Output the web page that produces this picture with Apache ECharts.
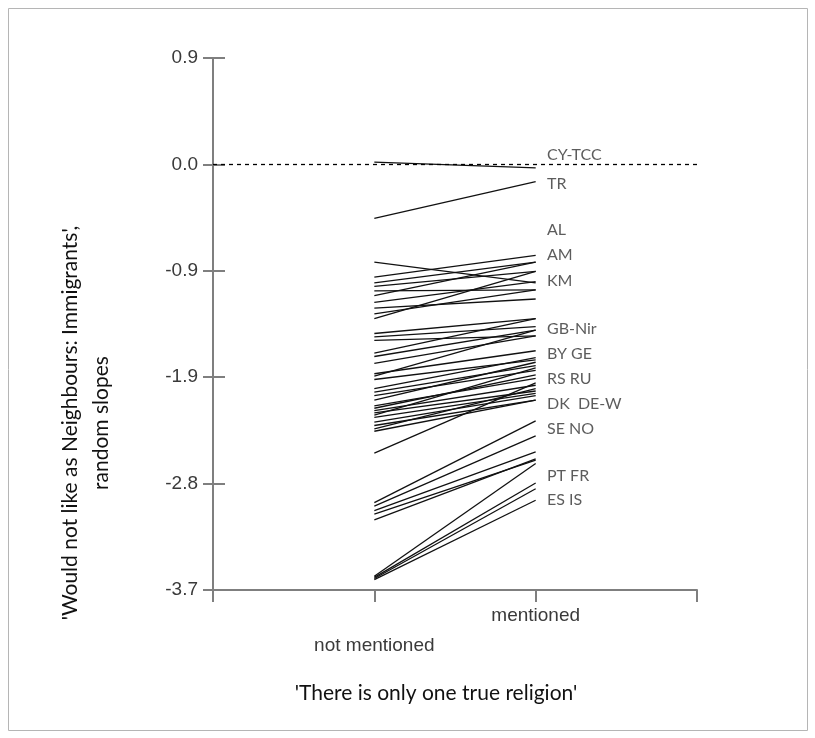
<!DOCTYPE html>
<html>
<head>
<meta charset="utf-8">
<script src="https://cdn.jsdelivr.net/npm/echarts@6/dist/echarts.min.js"></script>
<style>html,body{margin:0;padding:0;background:#fff;}#c{width:815px;height:738px;}</style>
</head>
<body>
<div id="c"></div>
<script>
// x categories
const categories = ['not mentioned', 'mentioned'];
// random slopes per country: value at "not mentioned" and at "mentioned"
const notMentioned = [0.02, -0.47, -0.85, -0.98, -1.03, -1.06, -1.10, -1.14, -1.20, -1.25, -1.30, -1.34,
  -1.47, -1.50, -1.53, -1.64, -1.67, -1.73, -1.82, -1.84, -1.87, -1.95, -1.98, -2.01, -2.05, -2.10,
  -2.12, -2.14, -2.16, -2.18, -2.20, -2.24, -2.27, -2.30, -2.32, -2.51, -2.94, -2.97, -3.01, -3.04,
  -3.09, -3.58, -3.59, -3.60, -3.61];
const mentioned = [-0.03, -0.15, -1.03, -0.79, -0.85, -0.93, -1.09, -0.85, -1.02, -1.17, -1.09, -0.93,
  -1.34, -1.41, -1.49, -1.34, -1.44, -1.49, -1.62, -1.44, -1.70, -1.68, -1.75, -1.79, -1.72, -1.86,
  -1.83, -1.92, -1.97, -1.77, -1.99, -2.01, -2.05, -1.95, -2.05, -1.90, -2.23, -2.36, -2.50, -2.57,
  -2.56, -2.60, -2.77, -2.82, -2.92];
// country label annotations at the right end
const labelNames = ['CY-TCC', 'TR', 'AL', 'AM', 'KM', 'GB-Nir', 'BY GE', 'RS RU', 'DK  DE-W', 'SE NO', 'PT FR', 'ES IS'];
const labelValues = [0.08, -0.165, -0.565, -0.79, -1.01, -1.43, -1.65, -1.86, -2.08, -2.30, -2.71, -2.92];
// y tick labels
const yTickLabels = ['-3.7', '-2.8', '-1.9', '-0.9', '0.0', '0.9'];

const chart = echarts.init(document.getElementById('c'));
const series = [];
for (let i = 0; i < notMentioned.length; i++) {
  series.push({
    type: 'line', silent: true, symbol: 'none', animation: false,
    lineStyle: {color: '#111', width: 1.3},
    data: [[1, notMentioned[i]], [2, mentioned[i]]]
  });
}
series.push({
  type: 'line', data: [], silent: true, animation: false,
  markLine: {
    symbol: 'none', silent: true, label: {show: false},
    lineStyle: {color: '#000', type: [4, 4], width: 1.3},
    data: [{yAxis: 0}]
  }
});
series.push({
  type: 'scatter', symbolSize: 0, silent: true, animation: false,
  data: labelValues.map((v, i) => ({value: [2.07, v], name: labelNames[i]})),
  label: {show: true, position: 'right', distance: 0, formatter: p => p.name,
    fontFamily: 'Lato', fontSize: 16, color: '#333'}
});

chart.setOption({
  animation: false,
  grid: {left: 213, right: 118, top: 58, bottom: 148},
  xAxis: {
    type: 'value', min: 0, max: 3, interval: 1,
    axisLine: {onZero: false, lineStyle: {color: '#7f7f7f', width: 2}},
    axisTick: {show: true, length: 12, lineStyle: {color: '#7f7f7f', width: 2}},
    splitLine: {show: false},
    axisLabel: {
      margin: 11, fontFamily: 'Liberation Sans', fontSize: 19, color: '#3a3a3a', lineHeight: 30,
      formatter: v => v === 1 ? '\n' + categories[0] : (v === 2 ? categories[1] : '')
    }
  },
  yAxis: [{
    type: 'value', min: -3.7, max: 0.925, interval: 0.925,
    axisLine: {show: true, lineStyle: {color: '#7f7f7f', width: 2}},
    axisTick: {show: true, length: 10, lineStyle: {color: '#7f7f7f', width: 2}},
    splitLine: {show: false},
    axisLabel: {margin: 15, fontFamily: 'Liberation Sans', fontSize: 19, color: '#3a3a3a',
      formatter: (v, i) => yTickLabels[i]}
  }, {
    type: 'value', min: -3.7, max: 0.925, interval: 0.925, position: 'left',
    axisLine: {show: false},
    axisTick: {show: true, inside: true, length: 12, lineStyle: {color: '#7f7f7f', width: 2}},
    axisLabel: {show: false}, splitLine: {show: false}
  }],
  series: series,
  graphic: [
    {type: 'rect', shape: {x: 8.5, y: 8.5, width: 799, height: 722}, silent: true,
      style: {fill: 'none', stroke: '#b5b5b5', lineWidth: 1}},
    {type: 'text', x: 86, y: 423, rotation: Math.PI / 2, silent: true,
      style: {text: "'Would not like as Neighbours: Immigrants',\nrandom slopes", fontFamily: 'Lato',
        fontSize: 21, lineHeight: 31, fill: '#111', textAlign: 'center', textVerticalAlign: 'middle'}},
    {type: 'text', x: 436, y: 693, silent: true,
      style: {text: "'There is only one true religion'", fontFamily: 'Lato', fontSize: 21, fill: '#111',
        textAlign: 'center', textVerticalAlign: 'middle'}}
  ]
});
</script>
</body>
</html>
